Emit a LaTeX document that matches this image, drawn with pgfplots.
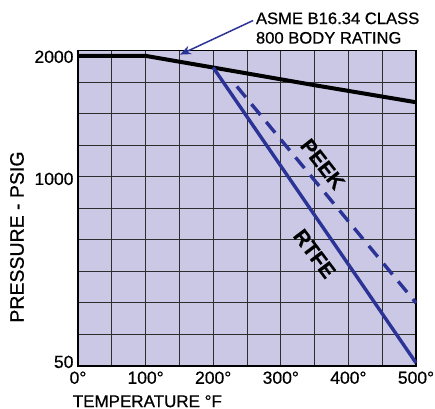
\documentclass[border=0pt]{standalone}
\usepackage{pgfplots}
\pgfplotsset{compat=1.18}
\usepackage{fontspec}
\setmainfont{Liberation Sans}[FakeBold=0.6]
\usetikzlibrary{arrows.meta}

\definecolor{bgfill}{RGB}{203,200,229}
\definecolor{lineblue}{RGB}{43,52,150}
\definecolor{gridc}{RGB}{45,45,45}

\begin{document}
\begin{tikzpicture}
% frame the page to the reference size (plot area: 338 x 315.5)
\path[use as bounding box] (-78pt,-42pt) rectangle (357pt,366pt);
\begin{axis}[
    scale only axis,
    width=338pt,
    height=315.5pt,
    xmin=0, xmax=500,
    ymin=0, ymax=10,
    axis background/.style={fill=bgfill},
    axis line style={line width=1.8pt, black},
    xtick={0,100,200,300,400,500},
    xticklabels={0°,100°,200°,300°,400°,500°},
    minor xtick={50,150,250,350,450},
    ytick={0.13,5.93,9.8},
    yticklabels={50,1000,2000},
    minor ytick={1,2,3,4,5,6,7,8,9},
    major tick length=0pt,
    minor tick length=0pt,
    xmajorgrids=true,
    xminorgrids=true,
    yminorgrids=true,
    ymajorgrids=false,
    grid style={gridc, line width=0.9pt},
    minor grid style={gridc, line width=0.9pt},
    tick label style={font=\fontsize{17.5}{20}\selectfont},
    xticklabel style={yshift=-2pt},
    yticklabel style={xshift=-1pt},
    /pgf/number format/assume math mode=true,
    clip=false,
]
% body rating
\addplot[black, line width=4pt, line join=round] coordinates {
    (0,9.83) (100,9.83) (200,9.46) (350,8.90) (500,8.36)
};
% RTFE
\addplot[lineblue, line width=3.4pt] coordinates {
    (200,9.46) (500,0.10)
};
% PEEK
\addplot[lineblue, line width=3.4pt, dash pattern=on 14pt off 9pt] coordinates {
    (235,8.86) (500,2.0)
};

\node[rotate=-52, font=\fontsize{21}{24}\selectfont\bfseries] at (axis cs:362,6.40) {PEEK};
\node[rotate=-53, font=\fontsize{21}{24}\selectfont\bfseries] at (axis cs:350,3.56) {RTFE};

\draw[lineblue, line width=1.5pt, -{Stealth[length=11pt,width=9pt]}]
    (axis cs:259,10.95) -- (axis cs:151,9.87);
\node[anchor=base west, align=left, inner sep=0pt,
      font=\fontsize{16.6}{19.5}\selectfont] at (axis cs:263,10.22)
    {ASME B16.34 CLASS\\800 BODY RATING};

\node[anchor=north west, inner sep=0pt, font=\fontsize{17}{20}\selectfont]
    at (axis cs:-8,-0.92) {TEMPERATURE °F};
\node[rotate=90, inner sep=0pt, font=\fontsize{19.5}{22}\selectfont]
    at (-61pt,129pt) {PRESSURE - PSIG};
\end{axis}
\end{tikzpicture}
\end{document}
